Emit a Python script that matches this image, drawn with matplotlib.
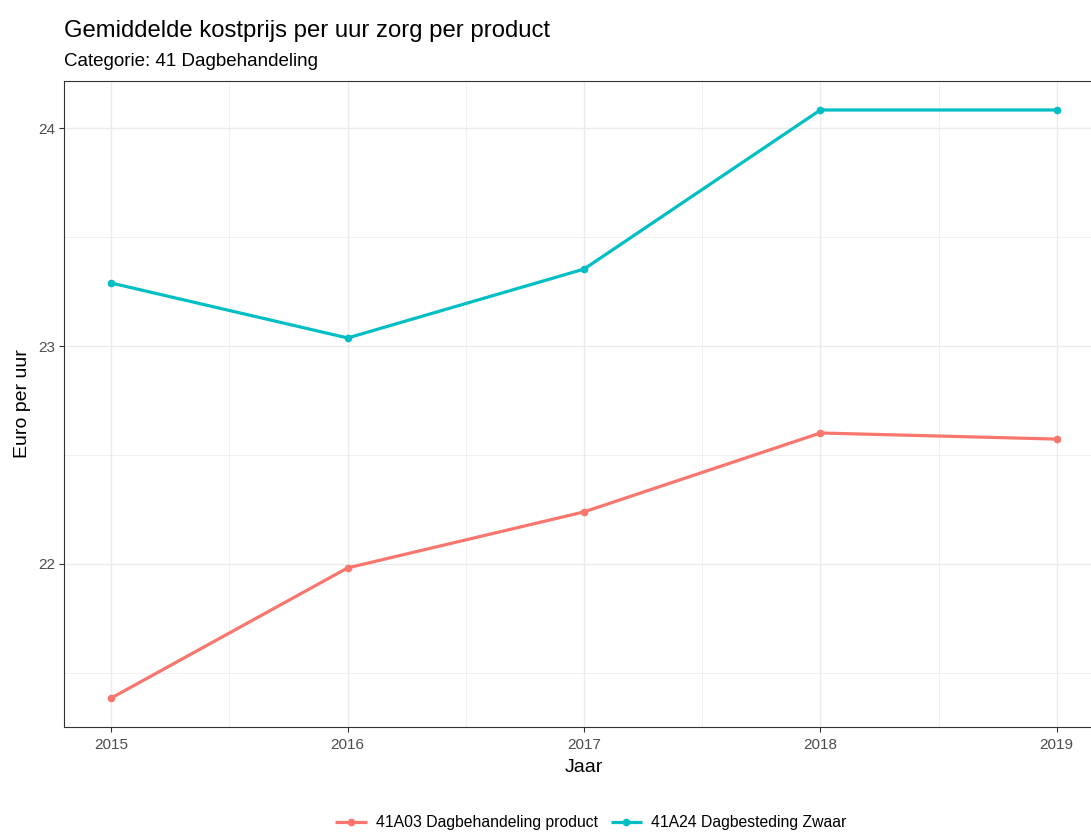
import matplotlib.pyplot as plt
from matplotlib.ticker import MultipleLocator

plt.rcParams['font.family'] = ['Liberation Sans', 'DejaVu Sans']

years = [2015, 2016, 2017, 2018, 2019]
series_names = ['41A03 Dagbehandeling product', '41A24 Dagbesteding Zwaar']
dagbehandeling = [21.385, 21.982, 22.239, 22.601, 22.573]
dagbesteding = [23.289, 23.037, 23.353, 24.083, 24.083]
colors = ['#F8766D', '#00BFC4']

fig = plt.figure(figsize=(10.91, 8.33), dpi=100)
ax = fig.add_axes([64 / 1091, 1 - 727 / 833, 1040 / 1091, (727 - 81) / 833])

for vals, name, c in zip([dagbehandeling, dagbesteding], series_names, colors):
    ax.plot(years, vals, color=c, lw=2.3, marker='o', ms=4.5, label=name,
            solid_capstyle='butt')

ax.set_xlim(2014.8, 2019.2)
ax.set_ylim(21.252, 24.216)
ax.xaxis.set_major_locator(MultipleLocator(1))
ax.xaxis.set_minor_locator(MultipleLocator(0.5))
ax.yaxis.set_major_locator(MultipleLocator(1))
ax.yaxis.set_minor_locator(MultipleLocator(0.5))
ax.grid(which='major', color='#EBEBEB', lw=1.0)
ax.grid(which='minor', color='#EBEBEB', lw=0.5)
ax.set_axisbelow(True)

for s in ax.spines.values():
    s.set_color('#333333')
    s.set_linewidth(0.8)
ax.spines['right'].set_visible(False)

ax.tick_params(which='major', length=3.5, width=0.8, color='#333333',
               labelsize=11, labelcolor='#4D4D4D', pad=3)
ax.tick_params(axis='x', which='major', pad=4.5)
ax.tick_params(which='minor', length=0)

ax.set_xlabel('Jaar', fontsize=14, labelpad=5)
ax.set_ylabel('Euro per uur', fontsize=14, labelpad=5)

fig.text(64 / 1091, 1 - 31 / 833, 'Gemiddelde kostprijs per uur zorg per product',
         fontsize=17.2, va='center', ha='left')
fig.text(64 / 1091, 1 - 62 / 833, 'Categorie: 41 Dagbehandeling',
         fontsize=13.5, va='center', ha='left')

fig.legend(loc='center', bbox_to_anchor=(591 / 1091, 1 - 823 / 833), ncol=2,
           frameon=False, fontsize=11.3, handlelength=2.0, columnspacing=0.8,
           handletextpad=0.6, borderpad=0)

fig.savefig('out.png', dpi=100)
